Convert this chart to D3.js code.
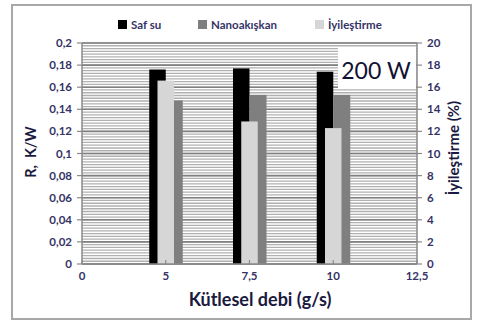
<!DOCTYPE html>
<html><head><meta charset="utf-8">
<script src="https://cdn.jsdelivr.net/npm/d3@7"></script>
<style>
html,body{margin:0;padding:0;background:#fff;}
svg text{font-family:Lato,"Open Sans",sans-serif;font-weight:bold;}
</style></head>
<body><svg id="c" width="479" height="325"></svg>
<script>
const categories = ["0","5","7,5","10","12,5"];
const barCategories = ["5","7,5","10"];
const safSu = [0.176, 0.177, 0.174];
const nanoakiskan = [0.148, 0.153, 0.153];
const iyilestirme = [16.6, 12.9, 12.3];
const leftTicks = [0,0.02,0.04,0.06,0.08,0.1,0.12,0.14,0.16,0.18,0.2];
const rightTicks = [0,2,4,6,8,10,12,14,16,18,20];
const seriesNames = ["Saf su","Nanoakışkan","İyileştirme"];

const svg = d3.select("#c");
const L = 82, R = 417, T = 43, B = 264;
const x = d3.scalePoint().domain(categories).range([L, R]);
const y = d3.scaleLinear().domain([0, 0.2]).range([B, T]);
const y2 = d3.scaleLinear().domain([0, 20]).range([B, T]);
const fmt = d => String(+d.toFixed(2)).replace(".", ",");
const textCol = "#353366";

// outer border
svg.append("rect").attr("x",12).attr("y",5).attr("width",459).attr("height",314)
  .attr("fill","#fff").attr("stroke","#a8a8a8").attr("stroke-width",2);

// minor stripes
const minor = d3.range(0, 0.2001, 0.0025);
svg.append("g").selectAll("line").data(minor).join("line")
  .attr("x1",L).attr("x2",R).attr("y1",d=>y(d)).attr("y2",d=>y(d))
  .attr("stroke","#b0b0b0").attr("stroke-width",1.3);
// major grid
svg.append("g").selectAll("line").data(leftTicks).join("line")
  .attr("x1",L).attr("x2",R).attr("y1",d=>y(d)).attr("y2",d=>y(d))
  .attr("stroke","#808080").attr("stroke-width",1.6);

// 200 W box
svg.append("rect").attr("x",338).attr("y",48).attr("width",78).attr("height",40).attr("fill","#fff");
svg.append("text").attr("x",376).attr("y",79).attr("text-anchor","middle")
  .attr("font-size",23).style("font-weight","normal").attr("fill","#111133").text("200 W");

const bw = 16.5;
const g = svg.append("g");
g.selectAll(".b1").data(safSu).join("rect")
  .attr("x",(d,i)=>x(barCategories[i]) - bw).attr("width",bw)
  .attr("y",d=>y(d)).attr("height",d=>B - y(d)).attr("fill","#000");
g.selectAll(".b2").data(nanoakiskan).join("rect")
  .attr("x",(d,i)=>x(barCategories[i])).attr("width",bw+0.5)
  .attr("y",d=>y(d)).attr("height",d=>B - y(d)).attr("fill","#7f7f7f");
g.selectAll(".b3").data(iyilestirme).join("rect")
  .attr("x",(d,i)=>x(barCategories[i]) - bw/2).attr("width",bw)
  .attr("y",d=>y2(d)).attr("height",d=>B - y2(d)).attr("fill","#d6d6d6");

// axes lines
const axCol = "#8a8a8a";
svg.append("line").attr("x1",L).attr("x2",L).attr("y1",T).attr("y2",B).attr("stroke",axCol).attr("stroke-width",1.5);
svg.append("line").attr("x1",R).attr("x2",R).attr("y1",T).attr("y2",B).attr("stroke",axCol).attr("stroke-width",1.5);
svg.append("line").attr("x1",L).attr("x2",R).attr("y1",B).attr("y2",B).attr("stroke",axCol).attr("stroke-width",1.5);

// left ticks
svg.append("g").selectAll("line").data(leftTicks).join("line")
  .attr("x1",L-5).attr("x2",L).attr("y1",d=>y(d)).attr("y2",d=>y(d)).attr("stroke",axCol).attr("stroke-width",1.2);
svg.append("g").selectAll("text").data(leftTicks).join("text")
  .attr("x",72).attr("y",d=>y(d)+4).attr("text-anchor","end").attr("font-size",11.5)
  .attr("fill",textCol).text(d=>fmt(d));
// right ticks
svg.append("g").selectAll("line").data(rightTicks).join("line")
  .attr("x1",R).attr("x2",R+5).attr("y1",d=>y2(d)).attr("y2",d=>y2(d)).attr("stroke",axCol).attr("stroke-width",1.2);
svg.append("g").selectAll("text").data(rightTicks).join("text")
  .attr("x",427).attr("y",d=>y2(d)+4).attr("text-anchor","start").attr("font-size",11.5)
  .attr("fill",textCol).text(d=>d);
// x ticks
svg.append("g").selectAll("line").data(categories).join("line")
  .attr("x1",d=>x(d)).attr("x2",d=>x(d)).attr("y1",B-4).attr("y2",B).attr("stroke",axCol).attr("stroke-width",1.2);
svg.append("g").selectAll("text").data(categories).join("text")
  .attr("x",d=>x(d)).attr("y",280).attr("text-anchor","middle").attr("font-size",11.5)
  .attr("fill",textCol).text(d=>d);

// axis titles
svg.append("text").attr("x",260).attr("y",306).attr("text-anchor","middle")
  .attr("font-size",18).attr("fill","#1a1a40").text("Kütlesel debi (g/s)");
svg.append("text").attr("transform","translate(36,152) rotate(-90)").attr("text-anchor","middle")
  .attr("font-size",14.5).attr("fill","#1a1a40").attr("xml:space","preserve").text("R,  K/W");
svg.append("text").attr("transform","translate(459,148) rotate(-90)").attr("text-anchor","middle")
  .attr("font-size",15).attr("fill","#1a1a40").text("İyileştirme (%)");

// legend
const legX = [118, 198, 315];
const legCol = ["#000","#7f7f7f","#d6d6d6"];
const lg = svg.append("g").selectAll("g").data(seriesNames).join("g")
  .attr("transform",(d,i)=>`translate(${legX[i]},20)`);
lg.append("rect").attr("width",9).attr("height",9).attr("fill",(d,i)=>legCol[i]);
lg.append("text").attr("x",13).attr("y",8.5).attr("font-size",11.5).attr("fill",textCol).text(d=>d);
</script></body></html>
